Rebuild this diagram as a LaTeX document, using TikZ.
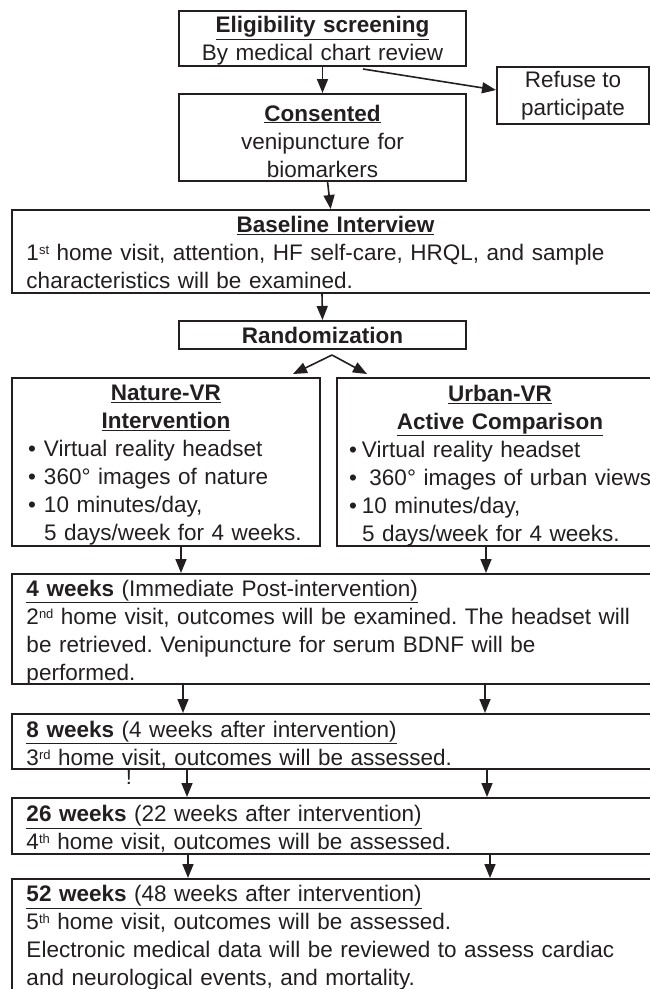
\documentclass[tikz,border=0pt]{standalone}
\usepackage{fontspec}
\setmainfont{Liberation Sans}
\usetikzlibrary{arrows.meta,positioning,calc}
\definecolor{ink}{HTML}{231F20}
\frenchspacing
\newcommand{\vrpt}[2][16pt]{\mbox{\makebox[#1][l]{\textbullet}#2}}
\newcommand{\ordsup}[1]{\raisebox{6pt}{\fontsize{13}{13}\selectfont #1}}
% pulls the text block down inside its box
\newcommand{\sinktext}[1]{\par\nointerlineskip\vskip-#1\hbox{}}
\tikzset{flowbox/.style={draw=ink,text=ink,line width=2pt,anchor=north west,inner sep=0pt,align=center,font=\fontsize{22.5}{28}\selectfont},
  widebox/.style={flowbox,align=left,inner xsep=14pt,text width=618pt,minimum width=647pt},
  flowarr/.style={-{Triangle[length=14pt,width=11pt]},line width=1.6pt,draw=ink}}

\begin{document}
\begin{tikzpicture}[x=1pt,y=-1pt]
\useasboundingbox (0,0) rectangle (650,989);
\node[flowbox,text width=287pt,minimum height=55pt] (elig) at (178,10) {\underline{\textbf{Eligibility screening}}\\By medical chart review\sinktext{5pt}};
\node[flowbox,minimum width=152pt,minimum height=57pt] (refuse) at (496,66) {Refuse to\\participate};
\node[flowbox,text width=287pt,minimum height=87pt] (cons) at (178,93) {\underline{\textbf{Consented}}\\venipuncture for\\biomarkers\sinktext{7pt}};
\node[widebox,minimum height=83pt] (base) at (11,209) {\centering\underline{\textbf{Baseline Interview}}\par\raggedright
1\ordsup{st} home visit, attention, HF self-care, HRQL, and sample\\characteristics will be examined.\sinktext{2pt}};
\node[flowbox,minimum width=287pt,minimum height=28pt] (rand) at (178,320) {\textbf{Randomization}};
\node[flowbox,align=left,inner xsep=16pt,text width=276pt,minimum height=168pt] (nat) at (11,377) {\centering\underline{\textbf{Nature-VR}}\\\underline{\textbf{Intervention}}\par\raggedright
\vrpt{Virtual reality headset}\\\vrpt{360° images of nature}\\\vrpt{10 minutes/day,}\\\hspace*{16pt}5 days/week for 4 weeks.\sinktext{7pt}};
\node[flowbox,align=left,inner xsep=12pt,text width=302pt,minimum height=168pt] (urb) at (336,377) {\centering\underline{\textbf{Urban-VR}}\\\underline{\textbf{Active Comparison}}\par\raggedright
\vrpt[13pt]{Virtual reality headset}\\\vrpt[13pt]{\ 360° images of urban views}\\\vrpt[13pt]{10 minutes/day,}\\\hspace*{13pt}5 days/week for 4 weeks.\sinktext{7pt}};
\node[widebox,minimum height=110pt] (w4) at (11,573) {\underline{\textbf{4 weeks} (Immediate Post-intervention)}\\2\ordsup{nd} home visit, outcomes will be examined. The headset will\\be retrieved. Venipuncture for serum BDNF will be\\performed.\sinktext{7pt}};
\node[widebox,minimum height=55pt] (w8) at (11,713) {\underline{\textbf{8 weeks} (4 weeks after intervention)}\\3\ordsup{rd} home visit, outcomes will be assessed.\sinktext{6pt}};
\node[widebox,minimum height=56pt] (w26) at (11,797) {\underline{\textbf{26 weeks} (22 weeks after intervention)}\\4\ordsup{th} home visit, outcomes will be assessed.\sinktext{6pt}};
\node[widebox,minimum height=116pt] (w52) at (11,878) {\underline{\textbf{52 weeks} (48 weeks after intervention)}\\5\ordsup{th} home visit, outcomes will be assessed.\\Electronic medical data will be reviewed to assess cardiac\\and neurological events, and mortality.\sinktext{2pt}};
\node[text=ink,font=\fontsize{22}{24}\selectfont,inner sep=0pt] (mark) at (129,777) {!};
\coordinate (natin) at (293,374);
\coordinate (urbin) at (367,374);
% screening and baseline
\draw[flowarr] (elig) -- (cons);
\draw[flowarr] ([xshift=40.5pt,yshift=-2pt]elig.south) -- ([yshift=5.5pt]refuse.west);
\draw[flowarr] (cons) -- (base);
\draw[flowarr] ([xshift=-0.5pt]base.south -| rand.north) -- (rand.north);
\draw[flowarr] ([xshift=9.5pt,yshift=-5pt]rand.south) -- (natin);
\draw[flowarr] ([xshift=9.5pt,yshift=-5pt]rand.south) -- (urbin);
% follow-up visits
\draw[flowarr] ([xshift=170pt]nat.south west) -- ([xshift=170pt]w4.north west);
\draw[flowarr] ([xshift=150pt]urb.south west) -- ([xshift=475pt]w4.north west);
\draw[flowarr] ([xshift=172pt]w4.south west) -- ([xshift=172pt]w8.north west);
\draw[flowarr] ([xshift=474pt]w4.south west) -- ([xshift=474pt]w8.north west);
\draw[flowarr] ([xshift=176pt]w8.south west) -- ([xshift=176pt]w26.north west);
\draw[flowarr] ([xshift=476pt]w8.south west) -- ([xshift=476pt]w26.north west);
\draw[flowarr] ([xshift=177pt]w26.south west) -- ([xshift=177pt]w52.north west);
\draw[flowarr] ([xshift=479pt]w26.south west) -- ([xshift=479pt]w52.north west);
\end{tikzpicture}
\end{document}
